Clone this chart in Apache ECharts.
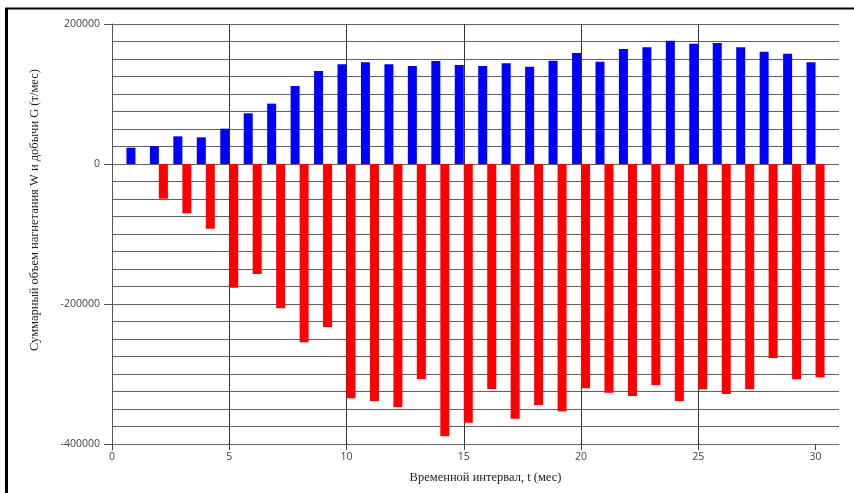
<!DOCTYPE html>
<html>
<head>
<meta charset="utf-8">
<script src="https://cdn.jsdelivr.net/npm/echarts@6/dist/echarts.min.js"></script>
<style>
  html, body { margin: 0; padding: 0; background: #ffffff; }
  #chart { width: 854px; height: 493px; }
</style>
</head>
<body>
<div id="chart"></div>
<script>
// Months of the period
const months = [1, 2, 3, 4, 5, 6, 7, 8, 9, 10, 11, 12, 13, 14, 15,
                16, 17, 18, 19, 20, 21, 22, 23, 24, 25, 26, 27, 28, 29, 30];

// Injection volume W per month (t/month)
const injectionW = [23300, 25500, 39500, 38100, 50500, 72400, 86200, 111400, 132900, 142400,
                    145200, 142400, 140000, 147100, 141400, 140000, 143800, 139000, 147600, 158600,
                    146200, 164300, 166700, 176200, 171900, 172900, 166700, 160500, 157600, 145200];

// Production volume G per month (t/month), drawn downward
const productionG = [0, -49600, -70400, -92400, -176700, -157100, -206200, -254700, -232900, -334700,
                     -338600, -347100, -307100, -389000, -369500, -321400, -363800, -344300, -353300, -320400,
                     -326700, -331400, -315700, -338600, -321900, -328600, -321900, -277100, -307600, -304700];

// Labelled ticks on the time axis
const xTicks = [0, 5, 10, 15, 20, 25, 30];

const xTitle = 'Временной интервал, t (мес)';
const yTitle = 'Суммарный объем нагнетания W и добычи G (т/мес)';

const chart = echarts.init(document.getElementById('chart'), null, { renderer: 'canvas' });

const pair = (xs, ys) => xs.map((x, i) => [x, ys[i]]);

chart.setOption({
  animation: false,
  backgroundColor: '#ffffff',
  grid: { left: 112, right: 15, top: 24, bottom: 49, containLabel: false },
  xAxis: {
    type: 'value',
    min: 0,
    max: 31,
    interval: 5,
    name: xTitle,
    nameLocation: 'middle',
    nameGap: 27,
    nameTextStyle: {
      fontFamily: 'Liberation Serif', fontSize: 12.5, color: '#222',
      padding: [0, 0, 0, 20]
    },
    axisLine: { onZero: false, lineStyle: { color: '#666', width: 1 } },
    axisTick: { show: true, length: 6, customValues: xTicks, lineStyle: { color: '#444' } },
    axisLabel: {
      customValues: xTicks, margin: 8,
      fontFamily: 'Open Sans', fontSize: 10.5, color: '#444'
    },
    splitLine: {
      show: true, showMinLine: false, showMaxLine: false,
      lineStyle: { color: '#333', width: 1 }
    }
  },
  yAxis: {
    type: 'value',
    min: -400000,
    max: 200000,
    interval: 200000,
    name: yTitle,
    nameLocation: 'middle',
    nameGap: 71,
    nameTextStyle: {
      fontFamily: 'Liberation Serif', fontSize: 12.5, color: '#222',
      padding: [0, 0, 0, 48]
    },
    axisLine: { show: true, lineStyle: { color: '#555', width: 1 } },
    axisTick: { show: true, length: 8, lineStyle: { color: '#555' } },
    axisLabel: {
      margin: 12,
      fontFamily: 'Open Sans', fontSize: 10.5, color: '#444',
      formatter: v => String(v)
    },
    splitLine: { show: true, lineStyle: { color: '#606060', width: 1 } },
    minorTick: { show: false, splitNumber: 8 },
    minorSplitLine: { show: true, lineStyle: { color: '#606060', width: 1 } }
  },
  series: [
    {
      name: 'W',
      type: 'bar',
      data: pair(months, injectionW),
      barWidth: 9,
      barGap: '0%',
      itemStyle: { color: '#0000ff' }
    },
    {
      name: 'G',
      type: 'bar',
      data: pair(months, productionG),
      barWidth: 9,
      barGap: '0%',
      itemStyle: { color: '#ff0000' }
    }
  ],
  graphic: [
    // window frame along the top and left edges
    { type: 'line', shape: { x1: 5, y1: 8.5, x2: 854, y2: 8.5 }, style: { stroke: '#000', lineWidth: 2 }, silent: true },
    { type: 'line', shape: { x1: 6.5, y1: 8, x2: 6.5, y2: 493 }, style: { stroke: '#000', lineWidth: 3 }, silent: true }
  ]
});
</script>
</body>
</html>
